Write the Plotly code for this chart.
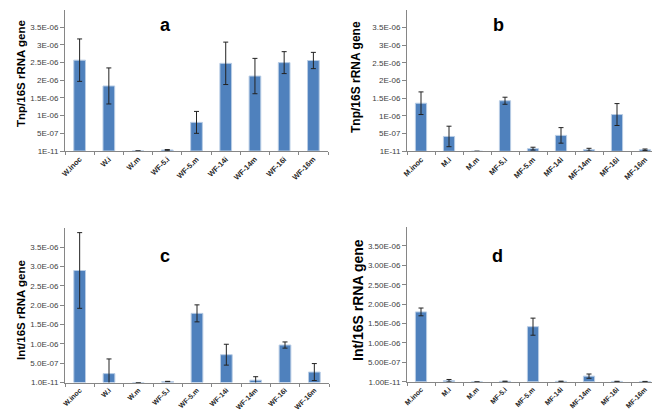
import plotly.graph_objects as go

# ---------------- data ----------------
cats_w = ["W.inoc", "W.i", "W.m", "WF-5.i", "WF-5.m", "WF-14i", "WF-14m", "WF-16i", "WF-16m"]
cats_m = ["M.inoc", "M.i", "M.m", "MF-5.i", "MF-5.m", "MF-14i", "MF-14m", "MF-16i", "MF-16m"]

tnp_w = [2.57e-6, 1.84e-6, 0.0, 0.03e-6, 0.81e-6, 2.48e-6, 2.12e-6, 2.50e-6, 2.56e-6]
tnp_w_err = [0.60e-6, 0.51e-6, 0.0, 0.01e-6, 0.31e-6, 0.60e-6, 0.50e-6, 0.31e-6, 0.23e-6]

tnp_m = [1.36e-6, 0.42e-6, 0.0, 1.43e-6, 0.075e-6, 0.45e-6, 0.045e-6, 1.04e-6, 0.045e-6]
tnp_m_err = [0.32e-6, 0.29e-6, 0.0, 0.10e-6, 0.04e-6, 0.22e-6, 0.04e-6, 0.31e-6, 0.02e-6]

int_w = [2.90e-6, 0.23e-6, 0.0, 0.025e-6, 1.79e-6, 0.72e-6, 0.06e-6, 0.97e-6, 0.27e-6]
int_w_err = [0.98e-6, 0.38e-6, 0.0, 0.005e-6, 0.22e-6, 0.27e-6, 0.09e-6, 0.08e-6, 0.22e-6]

int_m = [1.80e-6, 0.03e-6, 0.0, 0.012e-6, 1.42e-6, 0.012e-6, 0.146e-6, 0.01e-6, 0.008e-6]
int_m_err = [0.10e-6, 0.03e-6, 0.0, 0.004e-6, 0.22e-6, 0.004e-6, 0.055e-6, 0.003e-6, 0.002e-6]

tickvals = [0, 0.5e-6, 1.0e-6, 1.5e-6, 2.0e-6, 2.5e-6, 3.0e-6, 3.5e-6]
ticks_a = ["1E-11", "5E-07", "1E-06", "1.5E-06", "2E-06", "2.5E-06", "3E-06", "3.5E-06"]
ticks_c = ["1.0E-11", "5.0E-07", "1.0E-06", "1.5E-06", "2.0E-06", "2.5E-06", "3.0E-06", "3.5E-06"]
ticks_d = ["1.00E-11", "5.00E-07", "1.00E-06", "1.50E-06", "2.00E-06", "2.50E-06", "3.00E-06", "3.50E-06"]

panel_letters = ["a", "b", "c", "d"]
ytitles = ["Tnp/16S rRNA gene", "Tnp/16S rRNA gene", "Int/16S rRNA gene", "Int/16S rRNA gene"]

# ---------------- figure ----------------
W, H = 660, 411
BAR = "#4F81BD"
AX = "#868686"

panels = [
    dict(cats=cats_w, y=tnp_w, e=tnp_w_err, ticks=ticks_a, x0=57, x1=320, yb=143, yt=1.6, xf=7.5),
    dict(cats=cats_m, y=tnp_m, e=tnp_m_err, ticks=ticks_a, x0=399, x1=651, yb=143.3, yt=1.9, xf=7.5),
    dict(cats=cats_w, y=int_w, e=int_w_err, ticks=ticks_c, x0=57, x1=321, yb=374.5, yt=220, xf=7),
    dict(cats=cats_m, y=int_m, e=int_m_err, ticks=ticks_d, x0=399, x1=651, yb=373.8, yt=218.5, xf=7),
]

fig = go.Figure()
layout = dict(
    template="none",
    width=W, height=H, margin=dict(l=0, r=0, t=0, b=0, autoexpand=False),
    paper_bgcolor="white", plot_bgcolor="white",
    showlegend=False, bargap=0.6,
    font=dict(family="Liberation Sans", color="#404040"),
)

for i, p in enumerate(panels):
    n = "" if i == 0 else str(i + 1)
    fig.add_trace(go.Bar(
        x=p["cats"], y=p["y"],
        marker=dict(color=BAR, line=dict(color="#B9CDE5", width=1)),
        error_y=dict(type="data", array=p["e"], visible=True, color="#222222", thickness=1, width=2.5),
        xaxis="x" + n, yaxis="y" + n,
    ))
    layout["xaxis" + n] = dict(
        domain=[p["x0"] / W, p["x1"] / W], anchor="y" + n, automargin=False,
        type="category", tickangle=-45, showline=True, linecolor=AX, linewidth=1,
        ticks="outside", tickson="boundaries", ticklen=3, tickcolor=AX,
        showgrid=False, zeroline=False,
        tickfont=dict(size=p["xf"], family="Liberation Sans", color="#262626", weight="bold"),
    )
    layout["yaxis" + n] = dict(
        domain=[(H - p["yb"]) / H, (H - p["yt"]) / H], anchor="x" + n, automargin=False,
        range=[0, 4e-6], tickvals=tickvals, ticktext=p["ticks"],
        showline=True, linecolor=AX, linewidth=1,
        ticks="outside", ticklen=4, tickcolor=AX,
        showgrid=False, zeroline=False,
        tickfont=dict(size=8, family="Liberation Sans", color="#404040"),
    )

fig.update_layout(**layout)

letter_pos = [(157, 17), (490, 17), (157, 248), (489, 248)]
for (lx, ly), t in zip(letter_pos, panel_letters):
    fig.add_annotation(x=lx / W, y=1 - ly / H, xref="paper", yref="paper",
                       xanchor="center", yanchor="middle",
                       text="<b>%s</b>" % t, showarrow=False,
                       font=dict(size=18, family="Liberation Sans", color="black"))

ytitle_pos = [(13, 66, 11.5), (348, 69, 12), (13, 302, 11.5), (350, 292, 14)]
for (tx, ty, fs), t in zip(ytitle_pos, ytitles):
    fig.add_annotation(x=tx / W, y=1 - ty / H, xref="paper", yref="paper",
                       xanchor="center", yanchor="middle",
                       text="<b>%s</b>" % t, showarrow=False, textangle=-90,
                       font=dict(size=fs, family="Liberation Sans", color="black"))

fig.write_html("out.html")
